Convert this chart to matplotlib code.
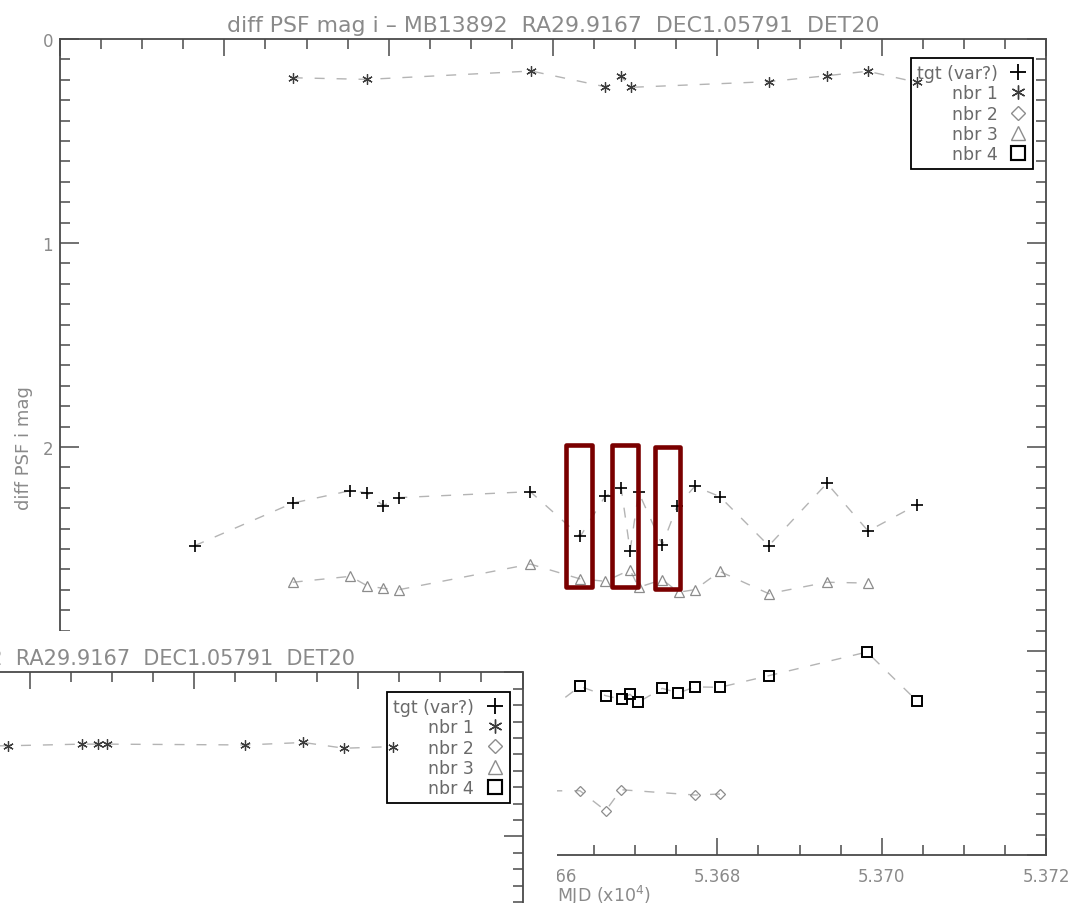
import numpy as np
import matplotlib
matplotlib.use('Agg')
import matplotlib.pyplot as plt
from matplotlib.lines import Line2D
from matplotlib.patches import Rectangle
from matplotlib.ticker import MultipleLocator, FuncFormatter

# light curves, MJD (days) and diff PSF i mag
tgt_mjd = [53616.38, 53628.32, 53635.32, 53637.37, 53639.35, 53641.31, 53657.24,
           53663.33, 53666.34, 53668.30, 53669.38, 53670.42, 53673.30, 53675.09,
           53677.26, 53680.30, 53686.26, 53693.34, 53698.35, 53704.26]
tgt_mag = [2.484, 2.275, 2.214, 2.225, 2.288, 2.248, 2.219, 2.438, 2.242, 2.201,
           2.508, 2.222, 2.480, 2.291, 2.193, 2.243, 2.484, 2.178, 2.412, 2.284]

nbr1_mjd = [53628.32, 53637.37, 53657.36, 53666.34, 53668.30, 53669.47,
            53686.26, 53693.34, 53698.30, 53704.26]
nbr1_mag = [0.190, 0.198, 0.157, 0.234, 0.183, 0.237, 0.209, 0.180, 0.158, 0.212]

nbr2_mjd = [53657.24, 53663.28, 53666.41, 53668.27, 53677.28, 53680.32]
nbr2_mag = [3.686, 3.685, 3.783, 3.680, 3.706, 3.701]

nbr3_mjd = [53628.32, 53635.32, 53637.37, 53639.35, 53641.31, 53657.24, 53663.33,
            53666.34, 53669.38, 53670.42, 53673.30, 53675.29, 53677.29, 53680.30,
            53686.26, 53693.34, 53698.35]
nbr3_mag = [2.663, 2.634, 2.680, 2.693, 2.699, 2.574, 2.647, 2.658, 2.603, 2.688,
            2.650, 2.712, 2.699, 2.610, 2.719, 2.663, 2.667]

nbr4_mjd = [53657.24, 53663.28, 53666.41, 53668.36, 53669.37, 53670.38, 53673.30,
            53675.25, 53677.28, 53680.32, 53686.26, 53698.21, 53704.30]
nbr4_mag = [3.357, 3.173, 3.219, 3.237, 3.212, 3.251, 3.183, 3.206, 3.176, 3.178,
            3.121, 3.005, 3.245]

# second (older) window peeking in at bottom left, only nbr 1 is in view
inset_nbr1_mag = [0.45, 0.45, 0.448, 0.438, 0.438, 0.438, 0.443, 0.428, 0.463, 0.453]

# hand drawn highlight boxes: mjd0, mjd1, mag0, mag1
boxes = [(53661.58, 53664.71, 1.99, 2.686),
         (53667.21, 53670.33, 1.99, 2.686),
         (53672.42, 53675.47, 2.00, 2.698)]

labels = ['tgt (var?)', 'nbr 1', 'nbr 2', 'nbr 3', 'nbr 4']
title = 'diff PSF mag i \u2013 MB13892  RA29.9167  DEC1.05791  DET20'

plt.rcParams['font.family'] = 'DejaVu Sans'
txtc = '#8a8a8a'
axc = '#4a4a4a'
linec = '#b4b4b4'
dash = (0, (7.2, 8.6))

W, H = 1077, 904
fig = plt.figure(figsize=(W / 100, H / 100), dpi=100)

# (marker, size, edge colour, mew) per series
styles = [('+', 9, 'black', 1.2),
          ((6, 2, 0), 7.5, '#3c3c3c', 0.9),
          ('D', 5.2, '#8c8c8c', 0.9),
          ('^', 7.0, '#8c8c8c', 0.9),
          ('s', 7.0, 'black', 1.4)]
leg_sizes = [11, 10, 7.5, 9.5, 9.5]


def dress(a):
    a.set_xlim(5.360, 5.372)
    a.set_ylim(4, 0)
    a.xaxis.set_major_locator(MultipleLocator(0.002))
    a.xaxis.set_minor_locator(MultipleLocator(0.0005))
    a.yaxis.set_major_locator(MultipleLocator(1))
    a.yaxis.set_minor_locator(MultipleLocator(0.1))
    # labels under the overlapping window are not seen anyway
    a.xaxis.set_major_formatter(FuncFormatter(lambda v, p: '%.3f' % v if v > 5.3655 else ''))
    a.yaxis.set_major_formatter(FuncFormatter(lambda v, p: '%d' % round(v) if v < 2.5 else ''))
    a.tick_params(which='both', direction='in', top=True, right=True,
                  color=axc, width=1.1, labelcolor=txtc, labelsize=12)
    a.tick_params(axis='x', which='major', length=12.5, pad=8.3)
    a.tick_params(axis='y', which='major', length=14, pad=5)
    a.tick_params(which='minor', length=7)
    for s in a.spines.values():
        s.set_color(axc)
        s.set_linewidth(1.3)
    handles = []
    for (m, ms, c, mw), lms in zip(styles, leg_sizes):
        handles.append(Line2D([], [], ls='none', marker=m, ms=lms, mec=c,
                              mfc='none', mew=mw * 1.1))
    return handles


def draw_series(a, series):
    for (x, y), (m, ms, c, mw) in zip(series, styles):
        a.plot(np.array(x) / 1e4, y, ls=dash, lw=1.0, color=linec,
               marker=m, ms=ms, mec=c, mfc='none', mew=mw)


def add_legend(a, x, y):
    leg = a.legend(handles, labels, loc='upper right', bbox_to_anchor=(x, y),
                   borderaxespad=0, markerfirst=False, fontsize=12.5,
                   labelcolor='#6a6a6a', handlelength=1.0, handletextpad=0.7,
                   labelspacing=0.12, borderpad=0.35, fancybox=False,
                   framealpha=1, edgecolor='black')
    leg.get_frame().set_facecolor('none')
    leg.get_frame().set_linewidth(1.3)


# main window
ax = fig.add_axes([60 / W, (H - 856) / H, 986 / W, 816 / H])
handles = dress(ax)
ax.set_title(title, fontsize=15.8, color=txtc, pad=6)
draw_series(ax, [(tgt_mjd, tgt_mag), (nbr1_mjd, nbr1_mag), (nbr2_mjd, nbr2_mag),
                 (nbr3_mjd, nbr3_mag), (nbr4_mjd, nbr4_mag)])
add_legend(ax, 0.987, 0.9763)
ax.set_ylabel('diff PSF i mag', fontsize=13, color=txtc)
ax.yaxis.set_label_coords(-0.0277, 0.5)
ax.set_xlabel('MJD (x10$^4$)', fontsize=12.5, color=txtc, loc='left')
ax.xaxis.set_label_coords((557 - 60) / 986, -0.034)

for x0, x1, y0, y1 in boxes:
    ax.add_patch(Rectangle((x0 / 1e4, y0), (x1 - x0) / 1e4, y1 - y0, fill=False,
                           ec='#7a0000', lw=3.3, joinstyle='round', zorder=5))

# the other window lying on top, bottom left
fig.add_artist(Rectangle((0, 0), 557 / W, (H - 632) / H, transform=fig.transFigure,
                         facecolor='white', edgecolor='none', zorder=1))
ax_in = fig.add_axes([-463.5 / W, (H - 1329.3) / H, 986 / W, 656 / H], zorder=2)
ax_in.set_facecolor('white')
dress(ax_in)
ax_in.set_title(title, fontsize=15, color=txtc, pad=6, x=(355 + 463.5) / 986, ha='right')
ax_in.tick_params(labelleft=False, labelbottom=False)
ax_in.plot(np.array(nbr1_mjd) / 1e4, inset_nbr1_mag, ls=dash, lw=1.0, color=linec,
           marker=styles[1][0], ms=styles[1][1], mec=styles[1][2], mfc='none',
           mew=styles[1][3])
add_legend(ax_in, 0.9869, 0.9695)

fig.savefig('out.png', dpi=100)
